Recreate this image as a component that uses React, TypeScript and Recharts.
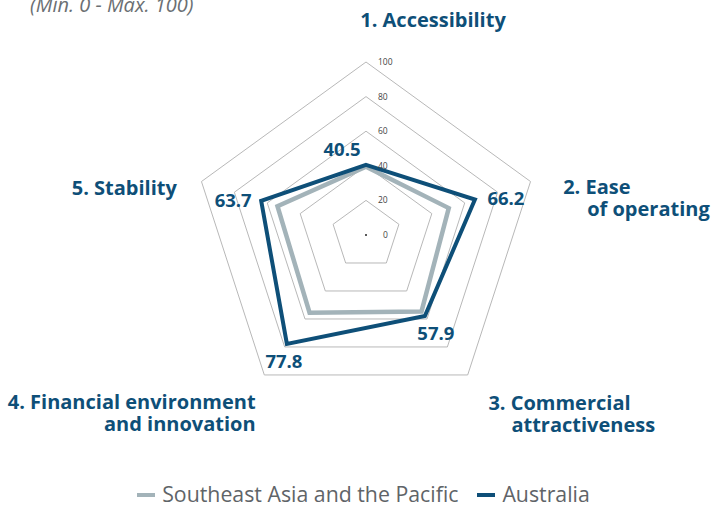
import React from "react";
import { RadarChart, Radar, PolarGrid, PolarAngleAxis, PolarRadiusAxis } from "recharts";

const categories = [
  "1. Accessibility",
  "2. Ease of operating",
  "3. Commercial attractiveness",
  "4. Financial environment and innovation",
  "5. Stability",
];
const seaPacific = [39.5, 50.3, 54.6, 55.5, 53.8];
const australia = [40.5, 66.2, 57.9, 77.8, 63.7];
const radiusTicks = [0, 20, 40, 60, 80, 100];

const data = categories.map((name, i) => ({
  name,
  sea: seaPacific[i],
  aus: australia[i],
}));

const BLUE = "#0e4f78";
const GREY = "#a3b3b9";
const FONT = "'Open Sans', sans-serif";

// how each category label sits around its vertex: lines, dx, dy, anchor
const catLayout = [
  { lines: ["1. Accessibility"], dx: [67], dy: -27, anchor: "middle" },
  { lines: ["2. Ease", "of operating"], dx: [25, 49], dy: 15, anchor: "start" },
  { lines: ["3. Commercial", "attractiveness"], dx: [16, 39], dy: 29, anchor: "start" },
  { lines: ["4. Financial environment", "and innovation"], dx: [-4, -4], dy: 28, anchor: "end" },
  { lines: ["5. Stability"], dx: [-17], dy: 16, anchor: "end" },
];

const valueOffsets = [
  { dx: -24, dy: -9 },
  { dx: 31, dy: 5 },
  { dx: 11, dy: 24 },
  { dx: -3, dy: 24 },
  { dx: -28, dy: 6 },
];

const CategoryTick = (props: any) => {
  const { x, y, index } = props;
  const l = catLayout[index];
  return (
    <text
      fill={BLUE}
      fontSize={20}
      fontWeight={700}
      fontFamily={FONT}
      textAnchor={l.anchor}
    >
      {l.lines.map((t, i) => (
        <tspan key={i} x={x + l.dx[i]} y={y + l.dy + i * 22}>
          {t}
        </tspan>
      ))}
    </text>
  );
};

const RadiusTick = (props: any) => {
  const { x, y, payload } = props;
  return (
    <g>
      {payload.value === 0 && <circle cx={x} cy={y} r={1} fill="#222" />}
      <text
        x={x + (payload.value === 0 ? 17 : 12)}
        y={y + 3}
        fontSize={8.5}
        fontFamily={FONT}
        fill="#444"
      >
        {payload.value}
      </text>
    </g>
  );
};

const ValueLabel = (props: any) => {
  const { x, y, index, value } = props;
  const o = valueOffsets[index];
  return (
    <text
      x={x + o.dx}
      y={y + o.dy}
      textAnchor="middle"
      fill={BLUE}
      fontSize={18.5}
      fontWeight={700}
      fontFamily={FONT}
    >
      {value}
    </text>
  );
};

const LegendItem = ({ color, label }: { color: string; label: string }) => (
  <div style={{ display: "flex", alignItems: "center", gap: 7 }}>
    <div style={{ width: 18, height: 4, background: color, marginTop: 2 }} />
    <span style={{ fontSize: 21.3, lineHeight: "22px", color: "#5f6468", fontFamily: FONT }}>{label}</span>
  </div>
);

export default function App() {
  return (
    <div style={{ position: "absolute", left: 0, top: 0, width: 713, height: 506, background: "#fff", overflow: "hidden" }}>
      <div
        style={{
          position: "absolute",
          left: 30,
          top: -5,
          fontSize: 20,
          lineHeight: "20px",
          fontStyle: "italic",
          color: "#6b6f73",
          fontFamily: FONT,
          whiteSpace: "nowrap",
        }}
      >
        (Min. 0 - Max. 100)
      </div>
      <RadarChart
        width={713}
        height={470}
        data={data}
        cx={366}
        cy={235}
        outerRadius={173}
        startAngle={90}
        endAngle={-270}
      >
        <PolarGrid radialLines={false} stroke="#b8b8b8" strokeWidth={1} polarRadius={[0, 34.6, 69.2, 103.8, 138.4, 173]} />
        <PolarAngleAxis dataKey="name" tick={<CategoryTick />} tickLine={false} axisLine={false} />
        <PolarRadiusAxis
          angle={90}
          domain={[0, 100]}
          ticks={radiusTicks as any}
          tick={<RadiusTick />}
          axisLine={false}
          tickLine={false}
        />
        <Radar
          dataKey="sea"
          name="Southeast Asia and the Pacific"
          stroke={GREY}
          strokeWidth={4.5}
          fill="none"
          fillOpacity={0}
          isAnimationActive={false}
        />
        <Radar
          dataKey="aus"
          name="Australia"
          stroke={BLUE}
          strokeWidth={4}
          fill="none"
          fillOpacity={0}
          label={<ValueLabel />}
          isAnimationActive={false}
        />
      </RadarChart>
      <div
        style={{
          position: "absolute",
          top: 483,
          left: 0,
          width: 713,
          boxSizing: "border-box",
          paddingLeft: 14,
          display: "flex",
          justifyContent: "center",
          gap: 19,
        }}
      >
        <LegendItem color={GREY} label="Southeast Asia and the Pacific" />
        <LegendItem color={BLUE} label="Australia" />
      </div>
    </div>
  );
}
